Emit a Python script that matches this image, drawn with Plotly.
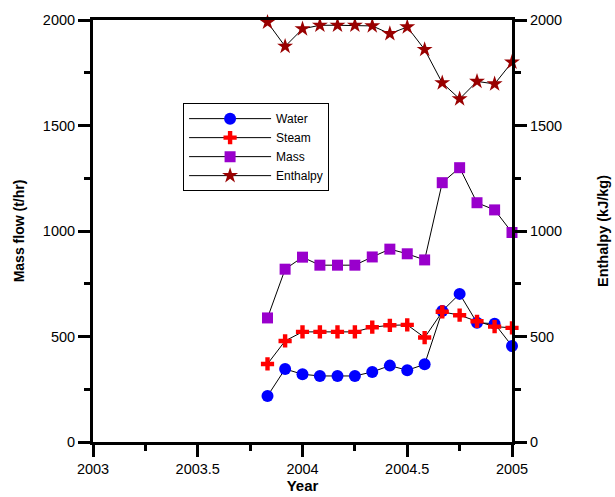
import plotly.graph_objects as go

# ---- data ----
years = [2003.833, 2003.917, 2004.0, 2004.083, 2004.167, 2004.25, 2004.333,
         2004.417, 2004.5, 2004.583, 2004.667, 2004.75, 2004.833, 2004.917, 2005.0]
water = [218, 346, 321, 313, 313, 313, 332, 362, 340, 368, 621, 702, 565, 561, 455]
steam = [370, 479, 522, 522, 522, 522, 544, 553, 555, 495, 617, 601, 572, 547, 541]
mass = [588, 819, 876, 838, 838, 838, 877, 914, 892, 863, 1229, 1300, 1134, 1100, 993]
enthalpy = [1989, 1875, 1958, 1975, 1975, 1975, 1972, 1935, 1967, 1860, 1702, 1626, 1709, 1697, 1800]

x_ticks = [2003, 2003.5, 2004, 2004.5, 2005]
x_labels = ["2003", "2003.5", "2004", "2004.5", "2005"]
y_ticks = [0, 500, 1000, 1500, 2000]
y_labels = ["0", "500", "1000", "1500", "2000"]

FONT = "Liberation Sans, Arial, sans-serif"

fig = go.Figure()

def add(name, y, symbol, color, size, yaxis="y"):
    fig.add_trace(go.Scatter(
        x=years, y=y, name=name, mode="lines+markers", yaxis=yaxis,
        line=dict(color="black", width=1),
        marker=dict(symbol=symbol, color=color, size=size, line=dict(width=0)),
        cliponaxis=False,
    ))

add("Water", water, "circle", "#0000FF", 12)
add("Steam", steam, "cross", "#FF0000", 11)
add("Mass", mass, "square", "#9900CC", 11)
add("Enthalpy", enthalpy, "star", "#990000", 12, yaxis="y2")

axis_common = dict(
    showgrid=False, zeroline=False, showline=True, linecolor="black", linewidth=3,
    ticks="outside", ticklen=12, tickwidth=3, tickcolor="black", automargin=False,
    tickfont=dict(family=FONT, size=14.5, color="black"),
)

fig.update_layout(
    width=615, height=497,
    margin=dict(l=93, r=103, t=20, b=55),
    paper_bgcolor="white", plot_bgcolor="white",
    font=dict(family=FONT, color="black"),
    xaxis=dict(
        **axis_common, range=[2003, 2005], tickvals=x_ticks, ticktext=x_labels,
        mirror=True,
        minor=dict(dtick=0.25, tick0=2003, ticks="outside", ticklen=6, tickwidth=3, tickcolor="black"),
        title=dict(text="<b>Year</b>", font=dict(family=FONT, size=15), standoff=5),
    ),
    yaxis=dict(
        **axis_common, range=[0, 2000], tickvals=y_ticks, ticktext=y_labels,
        minor=dict(dtick=250, tick0=0, ticks="outside", ticklen=6, tickwidth=3, tickcolor="black"),
        title=dict(text="<b>Mass flow (t/hr)</b>", font=dict(family=FONT, size=14), standoff=15),
    ),
    yaxis2=dict(
        **axis_common, range=[0, 2000], tickvals=y_ticks, ticktext=y_labels,
        overlaying="y", side="right",
        minor=dict(dtick=250, tick0=0, ticks="outside", ticklen=6, tickwidth=3, tickcolor="black"),
        title=dict(text="<b>Enthalpy (kJ/kg)</b>", font=dict(family=FONT, size=14.5), standoff=37),
    ),
    legend=dict(
        x=0.215, y=0.803, xanchor="left", yanchor="top",
        bordercolor="black", borderwidth=1, bgcolor="white",
        font=dict(family=FONT, size=12, color="black"),
        itemwidth=82, tracegroupgap=0,
    ),
    showlegend=True,
)

fig.write_html("out.html")
